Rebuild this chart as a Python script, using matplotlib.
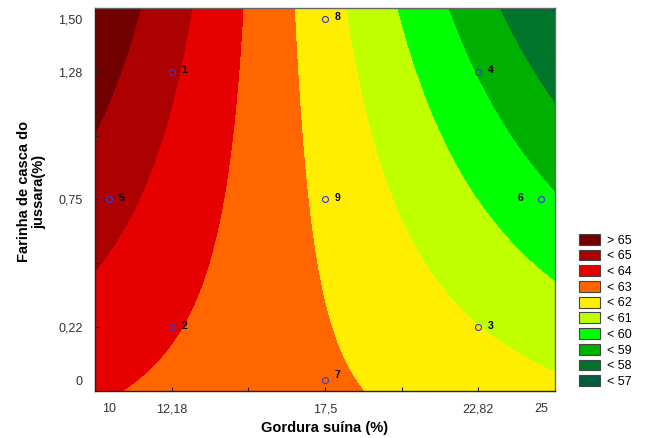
import numpy as np
import matplotlib
matplotlib.use("Agg")
import matplotlib.pyplot as plt
from matplotlib.patches import Patch

plt.rcParams['font.family'] = ['Liberation Sans', 'DejaVu Sans']

# Fitted response surface in coded units (x1 = fat, x2 = flour)
b0 = 61.8
b_fat = -1.815
b_flour = -0.253
b_fat_fat = 0.0
b_flour_flour = -0.009
b_fat_flour = -0.787

# Real-unit centre and unit step of each factor
fat_center, fat_step = 17.5, 5.32
flour_center, flour_step = 0.75, 0.53

# Experimental design runs
run_labels = ['1', '2', '3', '4', '5', '6', '7', '8', '9']
run_fat = [12.18, 12.18, 22.82, 22.82, 10.0, 25.0, 17.5, 17.5, 17.5]
run_flour = [1.28, 0.22, 0.22, 1.28, 0.75, 0.75, 0.0, 1.50, 0.75]

# Contour classes
levels = [57, 58, 59, 60, 61, 62, 63, 64, 65]
class_colors = ['#005e40', '#00742a', '#00b000', '#00ff00', '#c0ff00',
                '#ffee00', '#ff6600', '#e60000', '#ad0000', '#730000']
class_labels = ['< 57', '< 58', '< 59', '< 60', '< 61',
                '< 62', '< 63', '< 64', '< 65', '> 65']

x_ticks = [10, 12.18, 17.5, 22.82, 25]
x_ticklabels = ['10', '12,18', '17,5', '22,82', '25']
y_ticks = [0, 0.22, 0.75, 1.28, 1.50]
y_ticklabels = ['0', '0,22', '0,75', '1,28', '1,50']


def response(fat, flour):
    x1 = (fat - fat_center) / fat_step
    x2 = (flour - flour_center) / flour_step
    return (b0 + b_fat * x1 + b_flour * x2 + b_fat_fat * x1 ** 2
            + b_flour_flour * x2 ** 2 + b_fat_flour * x1 * x2)


fig = plt.figure(figsize=(6.46, 4.38), dpi=100)
ax = fig.add_axes([95 / 646, 1 - 391 / 438, 460 / 646, 383 / 438])

xlim = (fat_center - 1.5 * fat_step, fat_center + 1.5 * fat_step)
ylim = (flour_center - 1.5 * flour_step, flour_center + 1.5 * flour_step)

gx = np.linspace(*xlim, 400)
gy = np.linspace(*ylim, 400)
GX, GY = np.meshgrid(gx, gy)
GZ = response(GX, GY)

bounds = [-1e9] + levels + [1e9]
ax.contourf(GX, GY, GZ, levels=bounds, colors=class_colors)

ax.plot(run_fat, run_flour, 'o', ms=4.3, mfc='none', mec='#3a3ad0', mew=0.8,
        clip_on=False, zorder=5)
for lab, fx, fy in zip(run_labels, run_fat, run_flour):
    dx, dy, ha = 7, 1, 'left'
    if lab == '6':
        dx, ha = -13, 'right'
    if lab == '7':
        dx, dy = 7, 4
    ax.annotate(lab, (fx, fy), xytext=(dx, dy), textcoords='offset points',
                ha=ha, va='center', fontsize=7.5, fontweight='bold', zorder=6)

ax.set_xlim(*xlim)
ax.set_ylim(*ylim)

ax.set_xticks(x_ticks)
ax.set_xticklabels(x_ticklabels)
ax.set_yticks(y_ticks)
ax.set_yticklabels(y_ticklabels)
ax.set_xticks([fat_center - 0.5 * fat_step, fat_center + 0.5 * fat_step], minor=True)
ax.set_yticks([flour_center - 0.5 * flour_step, flour_center + 0.5 * flour_step], minor=True)
ax.tick_params(axis='both', which='both', direction='in', length=3,
               width=0.8, labelsize=9, pad=9, colors='#222222',
               labelcolor='#333333')
for tick in ax.xaxis.get_major_ticks():
    if tick.get_loc() in (x_ticks[0], x_ticks[-1]):
        tick.tick1line.set_visible(False)
for tick in ax.yaxis.get_major_ticks():
    if tick.get_loc() in (y_ticks[0], y_ticks[-1]):
        tick.tick1line.set_visible(False)

steps = np.arange(-3, 4) * 0.375
top = ax.secondary_xaxis('top')
top.set_xticks(fat_center + steps * fat_step)
top.set_xticklabels([])
top.tick_params(direction='in', length=3, width=0.8, colors='#333333')
right = ax.secondary_yaxis('right')
right.set_yticks(flour_center + steps * flour_step)
right.set_yticklabels([])
right.tick_params(direction='in', length=3, width=0.8, colors='#333333')
for sp in top.spines.values():
    sp.set_visible(False)
for sp in right.spines.values():
    sp.set_visible(False)

for name, sp in ax.spines.items():
    sp.set_linewidth(1.0)
    sp.set_color('#222222' if name in ('left', 'bottom') else '#666666')

ax.set_xlabel('Gordura suína (%)', fontsize=10.5, fontweight='bold')
ax.xaxis.set_label_coords(0.5, -0.078)
ax.set_ylabel('Farinha de casca do\njussara(%)', fontsize=10.5,
              fontweight='bold', linespacing=1.1)
ax.yaxis.set_label_coords(-0.106, 0.52)

handles = [Patch(facecolor=c, edgecolor='#444444', linewidth=0.8)
           for c in class_colors[::-1]]
fig.legend(handles, class_labels[::-1], loc='upper left',
           bbox_to_anchor=(579 / 646, 1 - 234 / 438), frameon=False,
           fontsize=9, handlelength=1.7, handleheight=0.95,
           labelspacing=0.24, handletextpad=0.55, borderpad=0,
           borderaxespad=0)

fig.savefig('out.png', dpi=100)
